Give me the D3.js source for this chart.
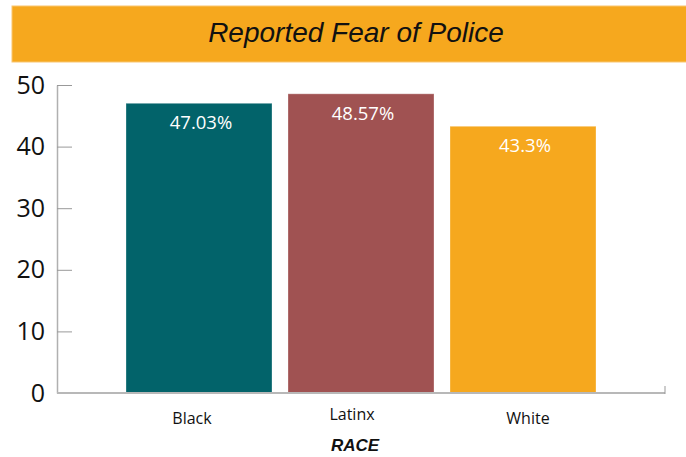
<!DOCTYPE html>
<html><head><meta charset="utf-8">
<script src="https://cdn.jsdelivr.net/npm/d3@7"></script>
<style>
html,body{margin:0;padding:0;background:#fff;}
svg{display:block;}
</style></head>
<body>
<svg id="chart" width="686" height="457"></svg>
<script>
const title = "Reported Fear of Police";
const axisTitle = "RACE";
const categories = ["Black", "Latinx", "White"];
const values = [47.03, 48.57, 43.3];
const valueLabels = ["47.03%", "48.57%", "43.3%"];
const colors = ["#02636A", "#A05252", "#F6A81E"];
const yTicks = [0, 10, 20, 30, 40, 50];

const svg = d3.select("#chart");

// Title banner
svg.append("rect").attr("x", 12).attr("y", 6).attr("width", 680).attr("height", 56)
  .attr("fill", "#F6A81E").attr("stroke", "#f9c670").attr("stroke-width", 1);
svg.append("text").attr("x", 356).attr("y", 42).attr("text-anchor", "middle")
  .attr("font-family", "'Liberation Sans', Arial, sans-serif").attr("font-style", "italic")
  .attr("font-size", 28).attr("fill", "#111").text(title);

const x = d3.scaleBand().domain(categories).range([110, 612])
  .paddingInner(16/162).paddingOuter(16/162);
const y = d3.scaleLinear().domain([0, 50]).range([393, 85]);

// Bars
svg.append("g").selectAll("rect").data(categories).join("rect")
  .attr("x", d => x(d)).attr("width", x.bandwidth())
  .attr("y", (d, i) => y(values[i])).attr("height", (d, i) => y(0) - y(values[i]))
  .attr("fill", (d, i) => colors[i])
  .attr("stroke", "rgba(255,255,255,0.3)").attr("stroke-width", 1);

// Value labels
svg.append("g").selectAll("text").data(categories).join("text")
  .attr("x", d => x(d) + x.bandwidth() / 2 + 2)
  .attr("y", (d, i) => y(values[i]) + 26)
  .attr("text-anchor", "middle")
  .attr("font-family", "'Open Sans', sans-serif").attr("font-size", 18.5)
  .attr("fill", "#fff").text((d, i) => valueLabels[i]);

// Y axis
const yAxis = svg.append("g").attr("transform", "translate(57,0)")
  .call(d3.axisLeft(y).tickValues(yTicks).tickSizeInner(-15).tickSizeOuter(0).tickPadding(12));
yAxis.select(".domain").attr("stroke", "#b0b0b0").attr("stroke-width", 1.5);
yAxis.selectAll(".tick line").attr("stroke", "#999").attr("stroke-width", 1);
yAxis.selectAll(".tick text").attr("font-family", "'Open Sans', sans-serif")
  .attr("font-size", 25).attr("fill", "#111");

// X axis
const xAxis = svg.append("g").attr("transform", "translate(0,393)")
  .call(d3.axisBottom(x).tickSize(0).tickPadding(20));
xAxis.select(".domain").remove();
svg.append("line").attr("x1", 57).attr("x2", 665).attr("y1", 393).attr("y2", 393)
  .attr("stroke", "#b8b8b8").attr("stroke-width", 2);
svg.append("line").attr("x1", 665).attr("x2", 665).attr("y1", 386).attr("y2", 394)
  .attr("stroke", "#999").attr("stroke-width", 1);
xAxis.selectAll(".tick text").attr("font-family", "'Open Sans', sans-serif")
  .attr("font-size", 16).attr("fill", "#111")
  .attr("dy", d => d === "Latinx" ? "0.45em" : "0.66em")
  .attr("dx", d => d === "Black" ? -7 : (d === "Latinx" ? -9 : 5));

// Axis title
svg.append("text").attr("x", 355).attr("y", 451).attr("text-anchor", "middle")
  .attr("font-family", "'Liberation Sans', Arial, sans-serif").attr("font-style", "italic")
  .attr("font-weight", "bold").attr("font-size", 17).attr("fill", "#111").text(axisTitle);
</script>
</body></html>
